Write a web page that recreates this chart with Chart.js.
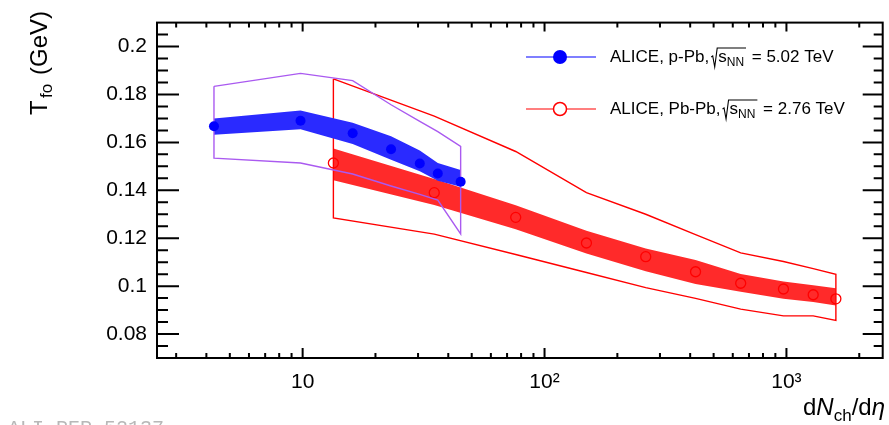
<!DOCTYPE html>
<html>
<head>
<meta charset="utf-8">
<script src="https://cdn.jsdelivr.net/npm/chart.js@4.4.1/dist/chart.umd.min.js"></script>
<style>
  body { margin: 0; background: #fff; }
  #wrap { width: 889px; height: 425px; position: relative; }
</style>
</head>
<body>
<div id="wrap"><canvas id="chart"></canvas></div>
<script>
// p-Pb 5.02 TeV
const ppbMult = [4.3, 9.8, 16.1, 23.2, 30.5, 36.2, 45.0];
const ppbTfo = [0.1667, 0.169, 0.1638, 0.1571, 0.1512, 0.147, 0.1436];
const ppbStatHi = [0.170, 0.1733, 0.1682, 0.1626, 0.1566, 0.1514, 0.1485];
const ppbStatLo = [0.1632, 0.1655, 0.1593, 0.1528, 0.148, 0.144, 0.1415];
const ppbSysHi = [0.1834, 0.1888, 0.1858, 0.1757, 0.1688, 0.1645, 0.1583];
const ppbSysLo = [0.1534, 0.1514, 0.1468, 0.1418, 0.1383, 0.1359, 0.1218];

// Pb-Pb 2.76 TeV
const pbpbMult = [13.4, 35.0, 76, 149, 262, 421, 647, 972, 1290, 1601];
const pbpbTfo = [0.1514, 0.139, 0.1287, 0.118, 0.1123, 0.106, 0.1012, 0.0988, 0.0964, 0.0947];
const pbpbStatHi = [0.1574, 0.1447, 0.1338, 0.1231, 0.1157, 0.1109, 0.1051, 0.1019, 0.1004, 0.0991];
const pbpbStatLo = [0.1442, 0.1339, 0.1237, 0.1136, 0.1062, 0.1009, 0.0977, 0.0947, 0.0934, 0.0919];
const pbpbSysHi = [0.1865, 0.171, 0.1562, 0.139, 0.130, 0.1215, 0.1139, 0.1103, 0.1073, 0.1049];
const pbpbSysLo = [0.1285, 0.1217, 0.1132, 0.1057, 0.0994, 0.0949, 0.0904, 0.0876, 0.0876, 0.0857];

const xTicks = [10, 100, 1000];
const xTickLabels = ['10', '10\u00B2', '10\u00B3'];
const yTicks = [0.08, 0.1, 0.12, 0.14, 0.16, 0.18, 0.2];

const FONT = "'Liberation Sans', Arial, Helvetica, sans-serif";
const BLUE = '#0000ff';
const RED = '#ff0000';
const VIOLET = '#aa5af0';
// stippled bands look like a slightly washed-out colour
const BLUE_BAND = '#2a2aff';
const RED_BAND = '#ff2a2a';

const pts = (xs, ys) => xs.map((x, i) => ({ x: x, y: ys[i] }));
const box = (xs, hi, lo) => [...pts(xs, hi), ...pts(xs, lo).reverse(), { x: xs[0], y: hi[0] }];

// ticks, frame, titles, legend
const decorations = {
    id: 'decorations',
    afterDraw(chart) {
        const { ctx, chartArea: { left, right, top, bottom }, scales: { x, y } } = chart;
        ctx.save();
        ctx.strokeStyle = '#000';
        ctx.lineWidth = 2;
        ctx.beginPath();
        for (let k = 15; k <= 41; k++) {
            const py = y.getPixelForValue(k * 0.005);
            const major = k % 4 === 0;
            ctx.moveTo(left, py); ctx.lineTo(left + (major ? 22 : 11), py);
            ctx.moveTo(right, py); ctx.lineTo(right - (major ? 20 : 9), py);
        }
        [1, 10, 100, 1000].forEach(d => {
            for (let m = 1; m <= 9; m++) {
                const v = m * d;
                if (v < 2.5 || v > 2500) continue;
                const px = x.getPixelForValue(v);
                const major = m === 1;
                ctx.moveTo(px, bottom); ctx.lineTo(px, bottom - (major ? 10 : 5));
                ctx.moveTo(px, top); ctx.lineTo(px, top + (major ? 9 : 5));
            }
        });
        ctx.stroke();
        ctx.strokeRect(left, top, right - left, bottom - top);

        ctx.fillStyle = '#000';
        ctx.textBaseline = 'alphabetic';

        // y title
        ctx.save();
        ctx.translate(47, 115);
        ctx.rotate(-Math.PI / 2);
        ctx.font = '24px ' + FONT;
        ctx.fillText('T', 0, 0);
        ctx.font = '17px ' + FONT;
        ctx.fillText('fo', 17, 5);
        ctx.font = '24px ' + FONT;
        ctx.fillText('(GeV)', 40, 0);
        ctx.restore();

        // x title
        const parts = [
            ['d', '24px ' + FONT, 0],
            ['N', 'italic 24px ' + FONT, 0],
            ['ch', '17px ' + FONT, 6],
            ['/d', '24px ' + FONT, 0],
            ['\u03B7', 'italic 24px ' + FONT, 0]
        ];
        let total = 0;
        parts.forEach(p => { ctx.font = p[1]; total += ctx.measureText(p[0]).width; });
        let tx = 885 - total;
        parts.forEach(p => {
            ctx.font = p[1];
            ctx.fillText(p[0], tx, 415 + p[2]);
            tx += ctx.measureText(p[0]).width;
        });

        // legend
        const entry = (ly, color, filled, label, energy) => {
            ctx.strokeStyle = color;
            ctx.lineWidth = 1.2;
            ctx.beginPath();
            ctx.moveTo(526, ly); ctx.lineTo(596, ly);
            ctx.stroke();
            ctx.beginPath();
            ctx.arc(560, ly, filled ? 7 : 6.5, 0, Math.PI * 2);
            if (filled) { ctx.fillStyle = color; ctx.fill(); }
            else { ctx.fillStyle = '#fff'; ctx.fill(); ctx.lineWidth = 1.5; ctx.stroke(); }

            const base = ly + 5;
            ctx.fillStyle = '#000';
            ctx.strokeStyle = '#000';
            ctx.font = '17px ' + FONT;
            let lx = 610;
            ctx.fillText(label, lx, base);
            lx += ctx.measureText(label).width + 2;
            const sx = lx + 7;
            const sw = ctx.measureText('s').width;
            ctx.font = '12px ' + FONT;
            const nw = ctx.measureText('NN').width;
            const endX = sx + sw + nw + 2;
            ctx.lineWidth = 1.1;
            ctx.beginPath();
            ctx.moveTo(lx, base - 5);
            ctx.lineTo(lx + 1.5, base - 6);
            ctx.lineTo(lx + 3.5, base + 5);
            ctx.lineTo(lx + 6, base - 14);
            ctx.lineTo(endX, base - 14);
            ctx.stroke();
            ctx.font = '17px ' + FONT;
            ctx.fillText('s', sx, base);
            ctx.font = '12px ' + FONT;
            ctx.fillText('NN', sx + sw, base + 4);
            ctx.font = '17px ' + FONT;
            ctx.fillText(' = ' + energy, endX + 1, base);
        };
        entry(57, BLUE, true, 'ALICE, p-Pb,', '5.02 TeV');
        entry(109, RED, false, 'ALICE, Pb-Pb,', '2.76 TeV');

        // preliminary figure id
        ctx.fillStyle = '#b8b8b8';
        ctx.font = '20px "Liberation Mono", monospace';
        ctx.fillText('ALI-PER-52137', 8, 434);
        ctx.restore();
    }
};

const bandEdge = (data, color, fill, order) => ({
    type: 'line',
    data: data,
    pointRadius: 0,
    pointHoverRadius: 0,
    borderWidth: 0,
    borderColor: 'rgba(0,0,0,0)',
    backgroundColor: color,
    fill: fill,
    order: order
});

const ctx = document.getElementById('chart').getContext('2d');
new Chart(ctx, {
    type: 'scatter',
    data: {
        datasets: [
            {   // 0 p-Pb points
                data: pts(ppbMult, ppbTfo),
                showLine: false,
                pointRadius: 5,
                pointBorderWidth: 0,
                pointBackgroundColor: BLUE,
                pointBorderColor: BLUE,
                order: 0
            },
            {   // 1 p-Pb systematics
                data: box(ppbMult, ppbSysHi, ppbSysLo),
                showLine: true,
                pointRadius: 0,
                borderColor: VIOLET,
                borderWidth: 1.4,
                fill: false,
                order: 1
            },
            // 2, 3 p-Pb stat band
            bandEdge(pts(ppbMult, ppbStatHi), BLUE_BAND, '+1', 2),
            bandEdge(pts(ppbMult, ppbStatLo), BLUE_BAND, false, 3),
            {   // 4 Pb-Pb points
                data: pts(pbpbMult, pbpbTfo),
                showLine: false,
                pointRadius: 5,
                pointBackgroundColor: 'rgba(0,0,0,0)',
                pointBorderColor: RED,
                pointBorderWidth: 1.3,
                order: 4
            },
            {   // 5 Pb-Pb systematics
                data: box(pbpbMult, pbpbSysHi, pbpbSysLo),
                showLine: true,
                pointRadius: 0,
                borderColor: RED,
                borderWidth: 1.4,
                fill: false,
                order: 5
            },
            // 6, 7 Pb-Pb stat band
            bandEdge(pts(pbpbMult, pbpbStatHi), RED_BAND, '+1', 6),
            bandEdge(pts(pbpbMult, pbpbStatLo), RED_BAND, false, 7)
        ]
    },
    options: {
        responsive: true,
        maintainAspectRatio: false,
        animation: false,
        layout: { padding: { left: 0, right: 4, top: 12, bottom: 0 } },
        plugins: {
            legend: { display: false },
            tooltip: { enabled: false }
        },
        scales: {
            x: {
                type: 'logarithmic',
                min: 2.5,
                max: 2500,
                grid: { display: false, drawTicks: false },
                border: { display: false },
                afterBuildTicks: scale => { scale.ticks = xTicks.map(v => ({ value: v })); },
                afterFit: scale => { scale.height = 67; },
                ticks: {
                    autoSkip: false,
                    maxRotation: 0,
                    padding: 12,
                    color: '#000',
                    font: { family: FONT, size: 21 },
                    callback: (v, i) => xTickLabels[i]
                }
            },
            y: {
                min: 0.07,
                max: 0.21,
                grid: { display: false, drawTicks: false },
                border: { display: false },
                afterBuildTicks: scale => { scale.ticks = yTicks.map(v => ({ value: v })); },
                afterFit: scale => { scale.width = 157; },
                ticks: {
                    padding: 10,
                    color: '#000',
                    font: { family: FONT, size: 21 },
                    callback: v => String(+v.toFixed(2))
                }
            }
        }
    },
    plugins: [decorations]
});
</script>
</body>
</html>
